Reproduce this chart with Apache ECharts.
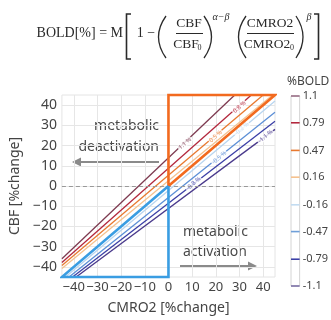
<!DOCTYPE html>
<html><head><meta charset="utf-8">
<script src="https://cdn.jsdelivr.net/npm/echarts@6/dist/echarts.min.js"></script>
<style>html,body{margin:0;padding:0;background:#fff}#c{width:331px;height:320px}</style>
</head><body><div id="c"></div>
<script>
// ---- data ----
const levels = [1.1, 0.79, 0.47, 0.16, -0.16, -0.47, -0.79, -1.1];
const levelLabels = ['1.1', '0.79', '0.47', '0.16', '-0.16', '-0.47', '-0.79', '-1.1'];
const contourP110 = [[-45, -36], [28, 45]];
const contourP079 = [[-45, -37.8], [35, 45]];
const contourP047 = [[-45, -39.3], [40, 45]];
const contourP016 = [[-45, -40.8], [44, 45]];
const contourN016 = [[-43.5, -45], [45, 42]];
const contourN047 = [[-42, -45], [45, 36.5]];
const contourN079 = [[-40.5, -45], [45, 32]];
const contourN110 = [[-39, -45], [45, 28]];
const contours = [contourP110, contourP079, contourP047, contourP016, contourN016, contourN047, contourN079, contourN110];
const inlineText = ['1.1 %', '0.8 %', '0.5 %', '-0.2 %', '-0.5 %', '-0.8 %', '-1.1 %'];
const inlineLevel = [0, 1, 2, 4, 5, 6, 7];
const inlineAt = [[7, 21], [30, 39], [20, 24.5], [31, 28.3], [21.5, 14], [10.6, 1.2], [41, 24.5]];
const tickValues = [-40, -30, -20, -10, 0, 10, 20, 30, 40];
const orangeRegion = [[0, 0], [0, 45], [45, 45], [0, 0]];
const blueRegion = [[0, 0], [0, -45], [-45, -45], [0, 0]];

// ---- styles ----
const levelColors = ['#7d3a50', '#b3283d', '#e8792f', '#f5c28f', '#b9d5ef', '#5c8fd6', '#3b3fa6', '#4a3a8c'];
const barColors = ['#9a7088', '#b3283d', '#e8792f', '#f5c28f', '#c3dcf1', '#6f9fd8', '#3b3fa6', '#7b70a6'];
const SANS = 'Noto Sans';
const SERIF = 'Liberation Serif';
const minus = v => String(v).replace('-', '\u2212');

const chart = echarts.init(document.getElementById('c'), null, {renderer: 'canvas'});

const series = [];
contours.forEach((c, i) => {
  series.push({
    type: 'line', xAxisIndex: 0, yAxisIndex: 0, data: c, symbol: 'none', z: 2,
    lineStyle: {color: levelColors[i], width: 1.3},
    markLine: i === 0 ? {silent: true, symbol: ['none', 'none'], label: {show: false},
      lineStyle: {color: '#999', type: [4, 3], width: 1}, data: [{yAxis: 0}]} : undefined
  });
});
series.push({
  type: 'scatter', xAxisIndex: 0, yAxisIndex: 0, symbolSize: 0, z: 4, silent: true,
  data: inlineAt.map((p, i) => ({value: p, name: inlineText[i],
    label: {color: levelColors[inlineLevel[i]]}})),
  label: {show: true, position: 'inside', formatter: '{b}', rotate: 41, fontSize: 6,
    fontFamily: SANS, backgroundColor: '#fff', padding: [0, 1]}
});
series.push({type: 'line', data: orangeRegion, symbol: 'none', clip: false, z: 5,
  lineStyle: {color: '#f26a1f', width: 2.6, join: 'miter'}});
series.push({type: 'line', data: blueRegion, symbol: 'none', clip: false, z: 5,
  lineStyle: {color: '#3a9de2', width: 2.6, join: 'miter'}});
levels.forEach((l, i) => {
  series.push({type: 'line', xAxisIndex: 1, yAxisIndex: 1, data: [[0, l], [1, l]], symbol: 'none',
    clip: false, lineStyle: {color: barColors[i], width: 1.6}});
});

const txt = (text, x, y, size, opts = {}) => Object.assign({
  type: 'text', x, y, silent: true,
  style: Object.assign({text, fontSize: size, fontFamily: SERIF, fill: '#2a2a2a',
    align: 'center', verticalAlign: 'middle'}, opts.style || {})
}, opts.el || {});
const bez = (x1, y1, x2, y2, cx, cy) => ({type: 'bezierCurve', silent: true,
  shape: {x1, y1, x2, y2, cpx1: cx, cpy1: cy}, style: {stroke: '#2a2a2a', lineWidth: 1.3, fill: null}});
const seg = (x1, y1, x2, y2, w, c) => ({type: 'line', silent: true, shape: {x1, y1, x2, y2},
  style: {stroke: c || '#2a2a2a', lineWidth: w}});

const graphic = [
  txt('BOLD[%] = M', 123, 33, 14, {style: {align: 'right'}}),
  {type: 'polyline', silent: true, shape: {points: [[131, 14], [126.5, 14], [126.5, 59], [131, 59]]},
    style: {stroke: '#2a2a2a', lineWidth: 1.6, fill: null}},
  txt('1 \u2212', 146, 33, 14),
  bez(166, 16, 166, 58, 151, 37),
  txt('CBF', 189, 23, 13.5),
  seg(176, 33.5, 203, 33.5, 1),
  txt('CBF', 186, 44, 13.5),
  txt('0', 199.5, 48, 8),
  bez(204, 16, 204, 58, 219, 37),
  txt('\u03b1\u2212\u03b2', 221, 17, 10, {style: {fontStyle: 'italic'}}),
  bez(246, 16, 246, 58, 231, 37),
  txt('CMRO2', 270, 23, 13.5),
  seg(247, 33.5, 294, 33.5, 1),
  txt('CMRO2', 267, 44, 13.5),
  txt('0', 292, 48, 8),
  bez(296, 16, 296, 58, 310, 37),
  txt('\u03b2', 309, 17, 10, {style: {fontStyle: 'italic'}}),
  {type: 'polyline', silent: true, shape: {points: [[314, 14], [318.5, 14], [318.5, 59], [314, 59]]},
    style: {stroke: '#2a2a2a', lineWidth: 1.6, fill: null}},
  // annotations
  txt('metabolic', 159, 126, 14, {style: {align: 'right', fontFamily: SANS, fill: '#4a4a4a'}}),
  txt('deactivation', 159, 147, 14, {style: {align: 'right', fontFamily: SANS, fill: '#4a4a4a'}}),
  seg(79, 162, 159, 162, 2, '#8a8a8a'),
  {type: 'polygon', silent: true, shape: {points: [[72, 162], [81, 157.5], [81, 166.5]]}, style: {fill: '#8a8a8a'}},
  txt('metabolic', 183, 232, 14, {style: {align: 'left', fontFamily: SANS, fill: '#4a4a4a'}}),
  txt('activation', 183, 252, 14, {style: {align: 'left', fontFamily: SANS, fill: '#4a4a4a'}}),
  seg(180, 266, 250, 266, 2, '#8a8a8a'),
  {type: 'polygon', silent: true, shape: {points: [[257, 266], [248, 261.5], [248, 270.5]]}, style: {fill: '#8a8a8a'}},
  txt('%BOLD', 287, 82, 12, {style: {align: 'left', fontFamily: SANS, fill: '#444'}})
];

chart.setOption({
  animation: false,
  backgroundColor: '#fff',
  grid: [
    {left: 57, right: 56, top: 95, bottom: 35, show: true, borderColor: '#e4e4e4', borderWidth: 1},
    {left: 291, width: 9, top: 96, height: 190, show: true, borderColor: '#d4d4d4', borderWidth: 1}
  ],
  xAxis: [
    {type: 'value', gridIndex: 0, min: -45, max: 45,
      axisLine: {show: false}, axisTick: {show: false, customValues: tickValues},
      axisLabel: {customValues: tickValues, formatter: minus, fontSize: 13, color: '#444', fontFamily: SANS,
        margin: 4, hideOverlap: false, interval: 0, showMinLabel: true, showMaxLabel: true},
      splitLine: {show: true, lineStyle: {color: '#e6e6e6', width: 1}},
      name: 'CMRO2 [%change]', nameLocation: 'middle', nameGap: 24,
      nameTextStyle: {fontSize: 14, color: '#444', fontFamily: SANS}},
    {type: 'value', gridIndex: 1, min: 0, max: 1, show: false}
  ],
  yAxis: [
    {type: 'value', gridIndex: 0, min: -45, max: 45,
      axisLine: {show: false}, axisTick: {show: false, customValues: tickValues},
      axisLabel: {customValues: tickValues, formatter: minus, fontSize: 14, color: '#444', fontFamily: SANS,
        margin: 5, hideOverlap: false, interval: 0},
      splitLine: {show: true, lineStyle: {color: '#e6e6e6', width: 1}},
      name: 'CBF [%change]', nameLocation: 'middle', nameGap: 33,
      nameTextStyle: {fontSize: 14, color: '#444', fontFamily: SANS}},
    {type: 'value', gridIndex: 1, min: -1.1, max: 1.1, position: 'right',
      axisLine: {show: false}, axisTick: {show: false, customValues: levels},
      axisLabel: {customValues: levels, formatter: v => levelLabels[levels.indexOf(v)] ?? v,
        fontSize: 11, color: '#444', fontFamily: SANS, margin: 3, hideOverlap: false, interval: 0},
      splitLine: {show: false}}
  ],
  series,
  graphic
});
</script></body></html>
